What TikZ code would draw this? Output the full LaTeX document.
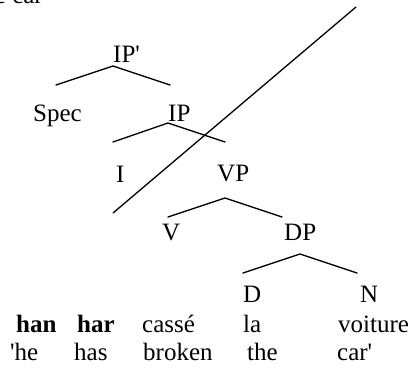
\documentclass[tikz,border=0pt]{standalone}
\usepackage{fontspec}
\setmainfont{Liberation Serif}
\newcommand{\treefs}{\fontsize{25}{29}\selectfont}
\newcommand{\sq}{\textquotesingle}
\begin{document}
\begin{tikzpicture}[x=1pt,y=-1pt,
  every node/.style={font=\treefs, inner sep=0pt, anchor=base west},
  br/.style={line width=1.3pt, line cap=round}]
\useasboundingbox (0,0) rectangle (414,367);
% cut-off text at top
\node[anchor=base east] (top) at (43,3) {e car};
% tree labels
\node (ipp) at (113,62) {IP\sq};
\node (spec) at (33,121) {Spec};
\node (ip) at (168,121) {IP};
\node (i) at (116,182) {I};
\node (vp) at (217,181) {VP};
\node (v) at (162,240) {V};
\node (dp) at (284,240) {DP};
\node (d) at (243,302) {D};
\node (n) at (360,302) {N};
% words
\node (w1) at (16,332) {\textbf{han}};
\node (w2) at (77,332) {\textbf{har}};
\node (w3) at (142,332) {cassé};
\node (w4) at (243,332) {la};
\node (w5) at (338,332) {voiture};
\node (g1) at (10,360) {\sq he};
\node (g2) at (74,360) {has};
\node (g3) at (143,360) {broken};
\node (g4) at (247,360) {the};
\node (g5) at (337,360) {car\sq};
% branch points
\coordinate (ippT) at (113,66); \coordinate (ippL) at (56,85);  \coordinate (ippR) at (170,85);
\coordinate (ipT)  at (168,123); \coordinate (ipL) at (113,142); \coordinate (ipR) at (225,142);
\coordinate (vpT)  at (225,198); \coordinate (vpL) at (168,217); \coordinate (vpR) at (282,217);
\coordinate (dpT)  at (300,254); \coordinate (dpL) at (243,273); \coordinate (dpR) at (357,273);
\coordinate (diagA) at (113,213); \coordinate (diagB) at (356,7);
\draw[br] (ippL) -- (ippT) -- (ippR);
\draw[br] (ipL) -- (ipT) -- (ipR);
\draw[br] (vpL) -- (vpT) -- (vpR);
\draw[br] (dpL) -- (dpT) -- (dpR);
\draw[br] (diagA) -- (diagB);
\end{tikzpicture}
\end{document}
